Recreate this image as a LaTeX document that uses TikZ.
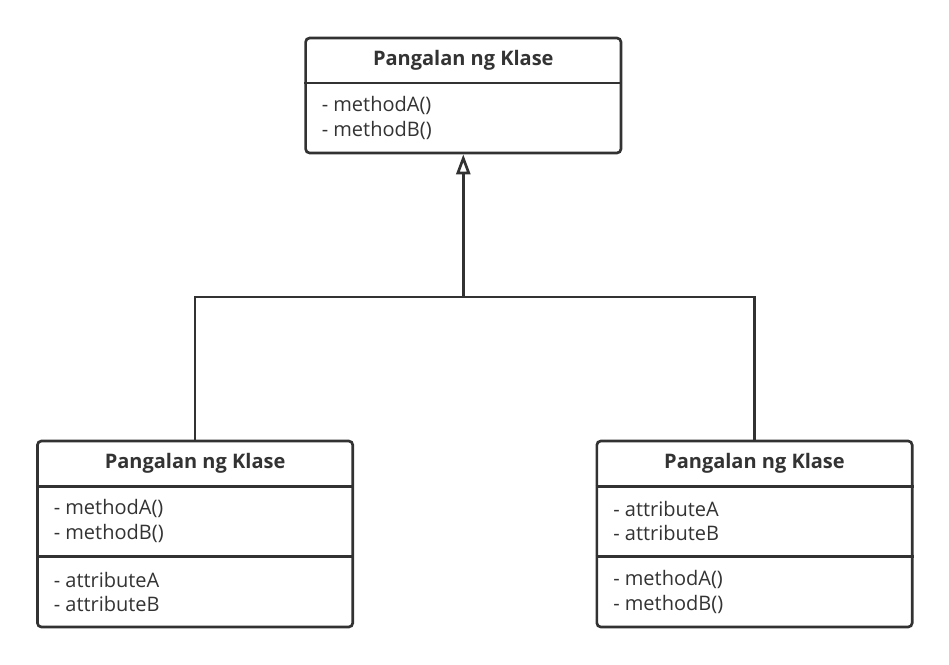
\documentclass[tikz,border=0pt]{standalone}
\usepackage{fontspec}
\setmainfont{Open Sans}
\usetikzlibrary{arrows.meta}
\definecolor{umlline}{HTML}{323232}
\definecolor{umltext}{HTML}{333333}
\tikzset{
  classbox/.style={draw=umlline, line width=2pt, rounded corners=3pt, minimum width=236.5pt, inner sep=0pt, fill=white},
  classname/.style={text=umltext, font=\fontsize{15}{18}\selectfont\bfseries},
  members/.style={text=umltext, font=\fontsize{15}{18.5}\selectfont, align=left, anchor=west, inner sep=0pt},
  divider/.style={draw=umlline, line width=2pt},
}
\begin{document}
\begin{tikzpicture}[x=0.75pt,y=-0.75pt]
    \useasboundingbox (0,0) rectangle (949,664);
    % parent class
    \node[classbox, minimum height=86.25pt] (super) at (463.3,95.5) {};
    \draw[divider] (super.west |- 0,83) -- (super.east |- 0,83);
    \node[classname] (superName) at (463.3,60.5) {Pangalan ng Klase};
    \node[members] (superOps) at (321.5,118) {- methodA()\\- methodB()};
    % left child
    \node[classbox, minimum height=139.5pt] (subA) at (195.1,534) {};
    \draw[divider] (subA.west |- 0,486.5) -- (subA.east |- 0,486.5);
    \draw[divider] (subA.west |- 0,556.5) -- (subA.east |- 0,556.5);
    \node[classname] (subAName) at (195.1,463.7) {Pangalan ng Klase};
    \node[members] (subAOps) at (53.5,521) {- methodA()\\- methodB()};
    \node[members] (subAAttr) at (53.5,592) {- attributeA\\- attributeB};
    % right child
    \node[classbox, minimum height=139.5pt] (subB) at (754.5,534) {};
    \draw[divider] (subB.west |- 0,486.5) -- (subB.east |- 0,486.5);
    \draw[divider] (subB.west |- 0,556.5) -- (subB.east |- 0,556.5);
    \node[classname] (subBName) at (754.5,463.7) {Pangalan ng Klase};
    \node[members] (subBAttr) at (613,521) {- attributeA\\- attributeB};
    \node[members] (subBOps) at (613,592) {- methodA()\\- methodB()};
    % generalization
    \coordinate (joint) at (463.3,297);
    \draw[divider] (subA.north) |- (joint) -| (subB.north);
    \draw[divider, -{Triangle[open, length=15pt, width=10.5pt]}] (joint) -- (super.south);
\end{tikzpicture}
\end{document}
